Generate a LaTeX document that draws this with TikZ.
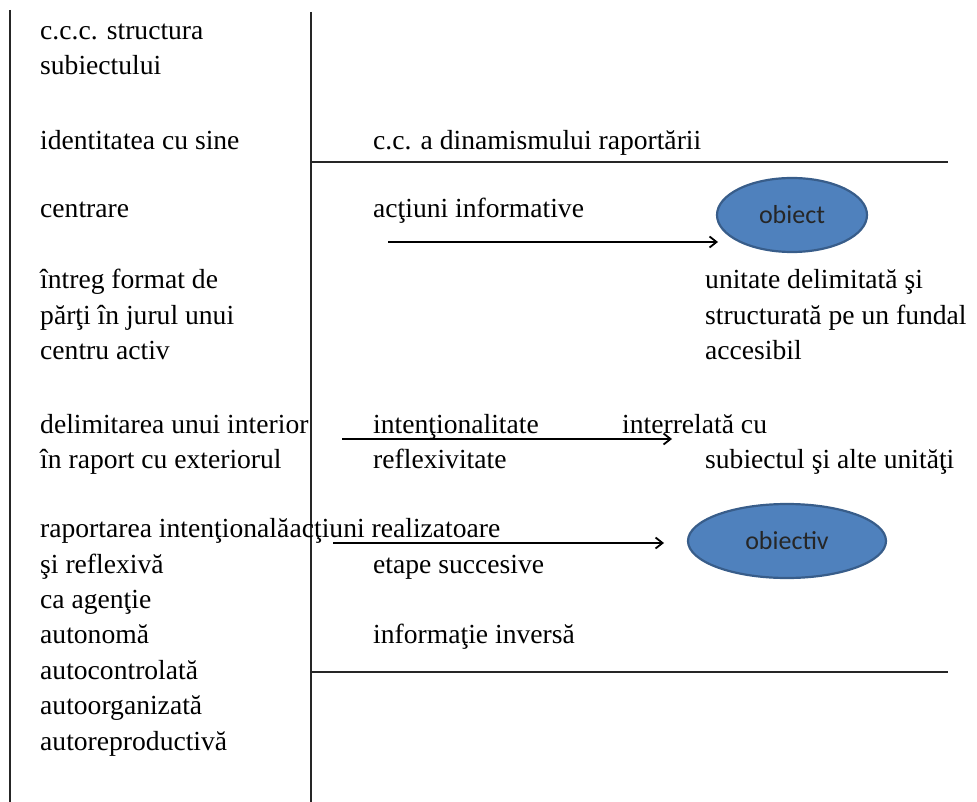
\documentclass[tikz,border=0pt]{standalone}
\usepackage{fontspec}
\setmainfont{Liberation Serif}
\newfontfamily\ellfont{Carlito}
\usetikzlibrary{arrows.meta,shapes.geometric}
\definecolor{ellfill}{HTML}{4F81BD}
\definecolor{elldraw}{HTML}{385D8A}
\definecolor{linec}{HTML}{262626}
\tikzset{
  txt/.style={anchor=base west,inner sep=0pt,font=\fontsize{27.6}{35}\selectfont},
  rule/.style={draw=linec,line width=2pt},
  arr/.style={draw=black,line width=1.8pt,-{Straight Barb[length=7pt,width=11pt,line width=1.8pt]}},
  oval/.style={ellipse,fill=ellfill,draw=elldraw,line width=2.2pt,inner sep=0pt,
    font=\ellfont\fontsize{26}{30}\selectfont,text=black!85}
}
\begin{document}
\begin{tikzpicture}[x=1pt,y=-1pt]
\useasboundingbox (0,0) rectangle (977,802);
% frame lines
\coordinate (l1t) at (10,10);  \coordinate (l1b) at (10,802);
\coordinate (l2t) at (311,12); \coordinate (l2b) at (311,802);
\coordinate (h1a) at (311,162); \coordinate (h1b) at (948,162);
\coordinate (h2a) at (311,672); \coordinate (h2b) at (948,672);
\draw[rule] (l1t) -- (l1b);
\draw[rule] (l2t) -- (l2b);
\draw[rule] (h1a) -- (h1b);
\draw[rule] (h2a) -- (h2b);
% left column
\node[txt] (t1)  at (40,40)  {c.c.c. structura};
\node[txt] (t2)  at (40,75)  {subiectului};
\node[txt] (t3)  at (40,150) {identitatea cu sine};
\node[txt] (t4)  at (40,218) {centrare};
\node[txt] (t5)  at (40,289) {întreg format de};
\node[txt] (t6)  at (40,324) {părţi în jurul unui};
\node[txt] (t7)  at (40,359) {centru activ};
\node[txt] (t8)  at (40,433) {delimitarea unui interior};
\node[txt] (t9)  at (40,468) {în raport cu exteriorul};
\node[txt] (t10) at (40,537) {raportarea intenţională};
\node[txt] (t11) at (40,573) {şi reflexivă};
\node[txt] (t12) at (40,608) {ca agenţie};
\node[txt] (t13) at (40,643) {autonomă};
\node[txt] (t14) at (40,679) {autocontrolată};
\node[txt] (t15) at (40,714) {autoorganizată};
\node[txt] (t16) at (40,750) {autoreproductivă};
% middle column
\node[txt] (m1) at (373,150) {c.c. a dinamismului raportării};
\node[txt] (m2) at (373,218) {acţiuni informative};
\node[txt] (m3) at (373,433) {intenţionalitate};
\node[txt] (m4) at (373,468) {reflexivitate};
\node[txt] (m5) at (t10.base east) {acţiuni realizatoare};
\node[txt] (m6) at (373,573) {etape succesive};
\node[txt] (m7) at (373,643) {informaţie inversă};
% right column
\node[oval,minimum width=150pt,minimum height=74pt] (obiect) at (792,215) {obiect};
\node[oval,minimum width=198pt,minimum height=74pt] (obiectiv) at (787,541) {obiectiv};
\node[txt] (r1) at (705,289) {unitate delimitată şi};
\node[txt] (r2) at (705,324) {structurată pe un fundal};
\node[txt] (r3) at (705,359) {accesibil};
\node[txt] (r4) at (622,433) {interrelată cu};
\node[txt] (r5) at (705,468) {subiectul şi alte unităţi};
% arrows
\coordinate (a1s) at (388,242); \coordinate (a1e) at (718,242);
\coordinate (a2s) at (342,439); \coordinate (a2e) at (672,439);
\coordinate (a3s) at (333,543); \coordinate (a3e) at (664,543);
\draw[arr] (a1s) -- (a1e);
\draw[arr] (a2s) -- (a2e);
\draw[arr] (a3s) -- (a3e);
\end{tikzpicture}
\end{document}
